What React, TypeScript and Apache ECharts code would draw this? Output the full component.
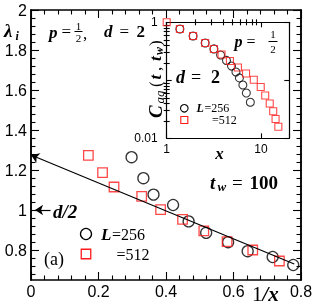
import React, { useEffect, useRef } from 'react';
import * as echarts from 'echarts';

// ---- data ----
const mainL256: [number, number][] = [
  [0.298, 1.264], [0.333, 1.159], [0.363, 1.077], [0.421, 1.025], [0.467, 0.943],
  [0.519, 0.886], [0.584, 0.839], [0.642, 0.794], [0.716, 0.765], [0.777, 0.725],
];
const mainL512: [number, number][] = [
  [0.170, 1.273], [0.212, 1.187], [0.246, 1.115], [0.328, 1.068], [0.384, 1.002],
  [0.449, 0.953], [0.512, 0.896], [0.581, 0.842], [0.657, 0.800], [0.736, 0.745],
];
const fitLine: [number, number][] = [[0, 1.275], [0.78, 0.73]];
const halfDArrow: [number, number][] = [[0.058, 1], [0.012, 1]];

const insetL256: [number, number][] = [
  [1.38, 0.766], [1.905, 0.58], [2.56, 0.44], [3.17, 0.347], [3.73, 0.273], [4.31, 0.22],
  [4.87, 0.176], [5.43, 0.139], [5.91, 0.11], [6.43, 0.083], [7.0, 0.0604], [7.72, 0.0418],
];
const insetL512: [number, number][] = [
  [1, 1], [1.38, 0.766], [1.905, 0.58], [2.56, 0.44], [3.17, 0.347], [3.82, 0.279],
  [4.69, 0.215], [5.7, 0.166], [6.95, 0.131], [8.4, 0.102], [9.95, 0.0767], [11.1, 0.0547],
  [12.4, 0.0398], [13.5, 0.0292], [14.3, 0.0215], [15.3, 0.0158],
];

// ---- ticks ----
const mainYMajor = [0.8, 1, 1.2, 1.4, 1.6, 1.8, 2];
const mainYMinor = [
  0.68, 0.72, 0.76, 0.84, 0.88, 0.92, 0.96, 1.04, 1.08, 1.12, 1.16, 1.24, 1.28, 1.32, 1.36,
  1.44, 1.48, 1.52, 1.56, 1.64, 1.68, 1.72, 1.76, 1.84, 1.88, 1.92, 1.96,
];
const insetXLabels = [1, 10];
const insetYLabels = [0.01, 1];
const insetXMinor = [2, 3, 4, 5, 6, 7, 8, 9];
const insetYMinor = [0.02, 0.03, 0.04, 0.05, 0.06, 0.07, 0.08, 0.09, 0.2, 0.3, 0.4, 0.5, 0.6, 0.7, 0.8, 0.9];

const SERIF = '"Liberation Serif", "Times New Roman", serif';
const SANS = '"Liberation Sans", Arial, sans-serif';
const RED = '#ff1a1a';

const near = (list: number[], v: number) => list.some((a) => Math.abs(a - v) < 1e-6 * Math.max(1, Math.abs(a)));

function txt(x: number, y: number, text: string, font: string, align = 'left', lineHeight?: number) {
  const style: any = { text, font, fill: '#000', align, verticalAlign: 'middle' };
  if (lineHeight) style.lineHeight = lineHeight;
  return { type: 'text', x, y, silent: true, z: 100, style };
}
function bar(x1: number, x2: number, y: number) {
  return { type: 'line', silent: true, z: 100, shape: { x1, y1: y, x2, y2: y }, style: { stroke: '#000', lineWidth: 1 } };
}

const BI = (s: number) => `italic bold ${s}px ${SERIF}`;
const I = (s: number) => `italic ${s}px ${SERIF}`;
const N = (s: number) => `${s}px ${SERIF}`;
const B = (s: number) => `bold ${s}px ${SERIF}`;

export default function App() {
  const ref = useRef<HTMLDivElement>(null);
  useEffect(() => {
    if (!ref.current) return;
    const chart = echarts.init(ref.current, null, { renderer: 'svg' });
    const axLine = { show: true, onZero: false, lineStyle: { color: '#000', width: 1.5 } };
    const insLine = { show: true, onZero: false, lineStyle: { color: '#000', width: 1.2 } };
    const tickStyle = { color: '#000', width: 1.1 };

    const mainX = (position: string, label: boolean) => ({
      type: 'value', gridIndex: 0, position, min: 0, max: 0.8, interval: 0.2,
      axisLine: axLine,
      axisTick: { show: true, inside: true, length: 8, lineStyle: tickStyle },
      minorTick: { show: true, splitNumber: 5, length: 4.5, lineStyle: tickStyle },
      splitLine: { show: false }, minorSplitLine: { show: false },
      axisLabel: label
        ? { show: true, margin: 3, color: '#000', fontSize: 16, fontFamily: SANS }
        : { show: false },
    });
    const mainY = (position: string, values: number[], len: number, label: boolean) => ({
      type: 'value', gridIndex: 0, position, min: 0.65, max: 2,
      axisLine: axLine,
      axisTick: { show: true, inside: true, length: len, customValues: values, lineStyle: tickStyle },
      splitLine: { show: false },
      axisLabel: label
        ? { show: true, customValues: values, margin: 4, color: '#000', fontSize: 16, fontFamily: SANS,
            formatter: (v: number) => String(+v.toFixed(2)) }
        : { show: false },
    });
    const insetXLog = (position: string, label: boolean) => ({
      type: 'log', logBase: 10, gridIndex: 1, position, min: 1, max: 20,
      axisLine: insLine,
      axisTick: { show: true, inside: true, length: 5, lineStyle: tickStyle },
      splitLine: { show: false }, minorTick: { show: false },
      axisLabel: label
        ? { show: true, margin: 5, color: '#000', fontSize: 12, fontFamily: SANS,
            showMinLabel: true, showMaxLabel: true,
            formatter: (v: number) => (near(insetXLabels, v) ? String(+v.toPrecision(3)) : '') }
        : { show: false },
    });
    const insetYLog = (position: string, label: boolean) => ({
      type: 'log', logBase: 10, gridIndex: 1, position, min: 0.01, max: 1,
      axisLine: insLine,
      axisTick: { show: true, inside: true, length: 5, lineStyle: tickStyle },
      splitLine: { show: false }, minorTick: { show: false },
      axisLabel: label
        ? { show: true, margin: 9, color: '#000', fontSize: 12, fontFamily: SANS,
            showMinLabel: true, showMaxLabel: true,
            formatter: (v: number) => (near(insetYLabels, v) ? String(+v.toPrecision(3)) : '') }
        : { show: false },
    });
    const insetMinorX = (position: string) => ({
      type: 'value', gridIndex: 1, position, min: 0, max: Math.log10(20),
      axisLine: { show: false },
      axisTick: { show: true, inside: true, length: 3, customValues: insetXMinor.map(Math.log10), lineStyle: tickStyle },
      axisLabel: { show: false }, splitLine: { show: false },
    });
    const insetMinorY = (position: string) => ({
      type: 'value', gridIndex: 1, position, min: -2, max: 0,
      axisLine: { show: false },
      axisTick: { show: true, inside: true, length: 3, customValues: insetYMinor.map(Math.log10), lineStyle: tickStyle },
      axisLabel: { show: false }, splitLine: { show: false },
    });

    const circleStyle = { color: 'rgba(0,0,0,0)', borderColor: '#000', borderWidth: 1.3 };
    const squareStyle = { color: 'rgba(0,0,0,0)', borderColor: RED, borderWidth: 1.3 };

    chart.setOption({
      animation: false,
      grid: [
        { left: 31, right: 15, top: 10, bottom: 27, containLabel: false, outerBoundsMode: 'none' },
        { left: 166.7, right: 26.7, top: 22.3, bottom: 168.7, containLabel: false, outerBoundsMode: 'none' },
      ],
      xAxis: [
        mainX('bottom', true), mainX('top', false),
        insetXLog('bottom', true), insetXLog('top', false),
        insetMinorX('bottom'), insetMinorX('top'),
      ],
      yAxis: [
        mainY('left', mainYMajor, 8, true), mainY('left', mainYMinor, 4.5, false),
        mainY('right', mainYMajor, 8, false), mainY('right', mainYMinor, 4.5, false),
        insetYLog('left', true), insetYLog('right', false),
        insetMinorY('left'), insetMinorY('right'),
      ],
      series: [
        {
          type: 'scatter', name: 'L=256', xAxisIndex: 0, yAxisIndex: 0, data: mainL256,
          symbol: 'circle', symbolSize: 11, itemStyle: circleStyle, silent: true,
          markLine: {
            silent: true, animation: false, symbol: ['none', 'arrow'], symbolSize: 8,
            label: { show: false }, emphasis: { disabled: true },
            lineStyle: { color: '#000', width: 1.2, type: 'solid' },
            data: [
              [{ coord: fitLine[1] }, { coord: fitLine[0] }],
              [{ coord: halfDArrow[0] }, { coord: halfDArrow[1] }],
            ],
          },
        },
        {
          type: 'scatter', name: 'L=512', xAxisIndex: 0, yAxisIndex: 0, data: mainL512,
          symbol: 'rect', symbolSize: 9.5, itemStyle: squareStyle, silent: true,
        },
        {
          type: 'scatter', name: 'inset L=256', xAxisIndex: 2, yAxisIndex: 4, data: insetL256,
          symbol: 'circle', symbolSize: 8, itemStyle: { ...circleStyle, borderWidth: 1.1 }, silent: true,
        },
        {
          type: 'scatter', name: 'inset L=512', xAxisIndex: 2, yAxisIndex: 4, data: insetL512,
          symbol: 'rect', symbolSize: 7, itemStyle: { ...squareStyle, borderWidth: 1.1 }, silent: true,
        },
      ],
      graphic: [
        // y-axis title lambda_i
        txt(4, 30, 'λ', BI(19)),
        txt(15.5, 36, 'i', BI(12)),
        // p = 1/2, d = 2
        txt(49, 32, 'p', BI(17)),
        txt(61.5, 31, '=', N(17)),
        txt(78.5, 25.5, '1', N(11), 'center'),
        bar(74.5, 82.5, 31.5),
        txt(78.5, 38, '2', N(11), 'center'),
        txt(83, 33, ',', N(17)),
        txt(104, 31, 'd', BI(17)),
        txt(119.5, 31, '=', N(17)),
        txt(136.5, 31, '2', B(17)),
        // t_w = 100
        txt(210, 182, 't', BI(19)),
        txt(217.5, 186.5, 'w', BI(13)),
        txt(232, 182, '=', N(19)),
        txt(249.5, 182, '100', B(19)),
        // d/2
        txt(53, 211, 'd/2', BI(19)),
        // legend
        { type: 'circle', silent: true, z: 100, shape: { cx: 86, cy: 234, r: 5.5 }, style: { fill: 'none', stroke: '#000', lineWidth: 1.3 } },
        txt(101, 234, 'L', BI(17)),
        txt(112, 234.5, '=256', N(16)),
        { type: 'rect', silent: true, z: 100, shape: { x: 81.25, y: 249.25, width: 9.5, height: 9.5 }, style: { fill: 'none', stroke: RED, lineWidth: 1.3 } },
        txt(116.5, 254.5, '=512', N(16)),
        txt(44, 258.5, '(a)', N(18)),
        // 1/x
        {
          type: 'text', x: 252, y: 294, silent: true, z: 100,
          style: {
            text: '{n|1}{i|/x}', verticalAlign: 'middle', align: 'left', fill: '#000',
            rich: { n: { font: N(21), fill: '#000' }, i: { font: BI(21), fill: '#000' } },
          },
        },
        // inset texts
        txt(234.5, 41.5, 'p', BI(16)),
        txt(246.5, 41, '=', N(16)),
        txt(273, 34, '1', N(11), 'center'),
        bar(268.5, 277.5, 41.5),
        txt(273, 48.5, '2', N(11), 'center'),
        txt(176, 76.5, 'd', BI(18)),
        txt(191, 76.5, '=', N(18)),
        txt(211, 76.5, '2', B(18)),
        { type: 'circle', silent: true, z: 100, shape: { cx: 184.3, cy: 108.3, r: 3.8 }, style: { fill: 'none', stroke: '#000', lineWidth: 1.1 } },
        txt(196.5, 108.2, 'L', BI(12), 'left', 11),
        txt(204.5, 108.2, '=256', N(12), 'left', 11),
        { type: 'rect', silent: true, z: 100, shape: { x: 180.8, y: 116.5, width: 7, height: 7 }, style: { fill: 'none', stroke: RED, lineWidth: 1.1 } },
        txt(212, 120.4, '=512', N(12), 'left', 11),
        txt(219.5, 153.5, 'x', BI(17), 'center'),
        // C_ag(t, t_w), rotated
        {
          type: 'group', x: 155, y: 118, rotation: Math.PI / 2, silent: true,
          children: [
            txt(0, 0, 'C', BI(19)),
            txt(14.5, 4, 'ag', I(13)),
            txt(31, 0, '(', N(17)),
            txt(38.5, 0, 't', BI(17)),
            txt(47, 0, ',', N(17)),
            txt(57, 0, 't', BI(17)),
            txt(63, 4, 'w', BI(12)),
            txt(72, 0, ')', N(17)),
          ],
        },
      ],
    });
    return () => chart.dispose();
  }, []);
  return <div ref={ref} style={{ position: 'fixed', left: 0, top: 0, width: 316, height: 307 }} />;
}
